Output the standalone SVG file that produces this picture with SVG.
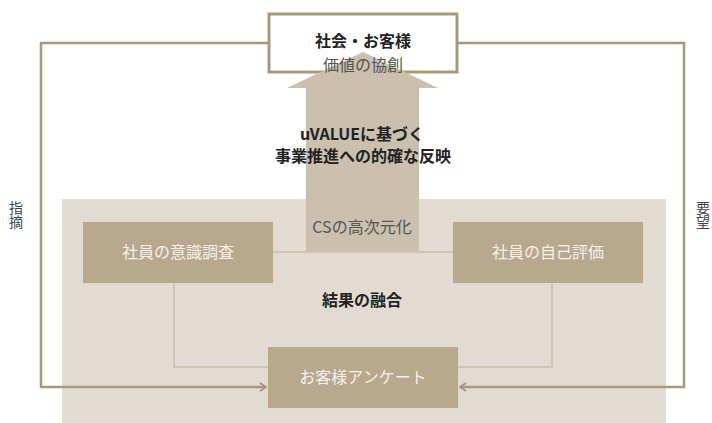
<svg xmlns="http://www.w3.org/2000/svg" width="712" height="423" viewBox="0 0 712 423">
<style>
text{font-family:"Noto Sans CJK JP","Noto Sans",sans-serif;text-anchor:middle;font-size:16px}
.b{font-weight:bold;fill:#222}
.g{fill:#555}
.w{fill:#f5f1ea}
.side{fill:#444;font-size:14px;writing-mode:vertical-rl;text-anchor:start}
.box{fill:#b8a88e}
.frame{fill:none;stroke:#a89878;stroke-width:2.5}
.conn{fill:none;stroke:#cfc5b4;stroke-width:2}
</style>
<defs>
<marker id="chev" viewBox="0 0 10 10" refX="9" refY="5" markerWidth="10" markerHeight="10" markerUnits="userSpaceOnUse" orient="auto">
<path d="M3,1 L9,5 L3,9" fill="none" stroke="#a89878" stroke-width="2"/>
</marker>
</defs>
<rect id="panel" x="62" y="199" width="604" height="224" fill="#e2dbd1"/>
<g id="connectors">
<path class="frame" d="M268,43 H41 V387 H266" marker-end="url(#chev)"/>
<path class="frame" d="M458,43 H684 V387 H460" marker-end="url(#chev)"/>
<path class="conn" d="M273,252 H453"/>
<path class="conn" d="M174,283 V367 H268"/>
<path class="conn" d="M552,283 V367 H458"/>
</g>
<g id="top-node">
<rect x="269" y="14" width="188" height="58" fill="#fff" stroke="#a89878" stroke-width="3"/>
<text class="b" x="363" y="47">社会・お客様</text>
</g>
<g id="big-arrow">
<polygon points="363,52 438,88 419,88 419,251 306,251 306,88 287,88" fill="#cbbfad"/>
<text class="g" x="363" y="71">価値の協創</text>
<text class="b" x="362" y="140">uVALUEに基づく</text>
<text class="b" x="363" y="162">事業推進への的確な反映</text>
<text class="g" x="362" y="233">CSの高次元化</text>
</g>
<g id="node-survey">
<rect class="box" x="83" y="222" width="190" height="61"/>
<text class="w" x="178" y="258">社員の意識調査</text>
</g>
<g id="node-self">
<rect class="box" x="453" y="222" width="190" height="61"/>
<text class="w" x="548" y="258">社員の自己評価</text>
</g>
<g id="fusion-label">
<text class="b" x="362" y="306">結果の融合</text>
</g>
<g id="node-customer">
<rect class="box" x="268" y="347" width="190" height="61"/>
<text class="w" x="363" y="383">お客様アンケート</text>
</g>
<g id="side-labels">
<text class="side" x="16" y="201">指摘</text>
<text class="side" x="703" y="201">要望</text>
</g>
</svg>
